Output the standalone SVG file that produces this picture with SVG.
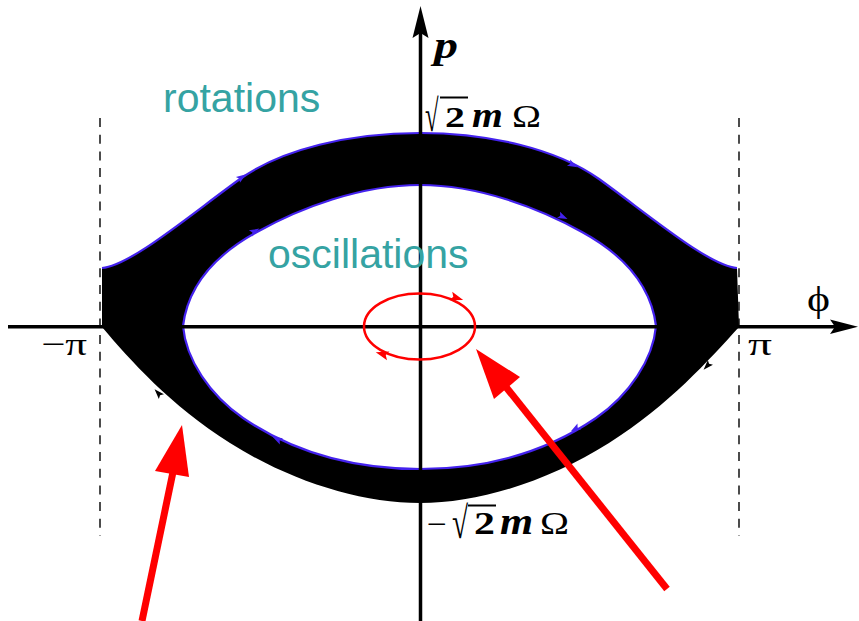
<svg xmlns="http://www.w3.org/2000/svg" xmlns:xlink="http://www.w3.org/1999/xlink" width="859" height="621" viewBox="0 0 859 621">
  <defs>
    <style>
      .axis { stroke: #000; stroke-width: 3.5; fill: none; }
      .dash { stroke: #000; stroke-width: 1.4; stroke-dasharray: 9 7.7; fill: none; }
      .blue { stroke: #4422ee; stroke-width: 2.2; fill: none; }
      .word { font-family: "Liberation Sans", Arial, sans-serif; font-size: 41px; fill: #35a3a3; }
      .math { font-family: "Liberation Serif", "DejaVu Serif", serif; fill: #000; }
      .red { stroke: #ff0000; fill: none; }
    </style>
    <path id="ah" d="M5,0 L-5,-3.5 L-3,0 L-5,3.5 Z"/>
  </defs>

  <rect width="859" height="621" fill="#ffffff"/>

  <g id="guides">
    <line class="dash" x1="100" y1="118" x2="100" y2="536"/>
    <line class="dash" x1="739" y1="118" x2="739" y2="536"/>
  </g>

  <g id="band">
    <path fill="#000" fill-rule="evenodd" d="M102,268 C130,266 190,215 240,179 C282,149 350,133 420,133 C489,133 557,149 599,179 C649,215 709,266 737,268 L739,327 C709,360 669,405 609,443 C549,481 479,503 420,503 C360,503 290,481 230,443 C170,405 130,360 102,327 Z M183,326 C188,285 215,255 257,232 C300,208 360,185 420,185 C479,185 539,208 582,232 C624,255 651,285 656,326 C653,360 629,395 596,418 C549,450 489,469 420,469 C350,469 290,450 243,418 C210,395 186,360 183,326 Z"/>
    <path class="blue" d="M102,268 C130,266 190,215 240,179 C282,149 350,133 420,133 C489,133 557,149 599,179 C649,215 709,266 737,268"/>
    <path class="blue" d="M183,326 C188,285 215,255 257,232 C300,208 360,185 420,185 C479,185 539,208 582,232 C624,255 651,285 656,326 C653,360 629,395 596,418 C549,450 489,469 420,469 C350,469 290,450 243,418 C210,395 186,360 183,326 Z"/>
    <g fill="#4422ee">
      <use xlink:href="#ah" transform="translate(242,177) rotate(-35)"/>
      <use xlink:href="#ah" transform="translate(573,165) rotate(27)"/>
      <use xlink:href="#ah" transform="translate(255,231) rotate(-29)"/>
      <use xlink:href="#ah" transform="translate(563,217) rotate(25)"/>
      <use xlink:href="#ah" transform="translate(277,439) rotate(-153)"/>
      <use xlink:href="#ah" transform="translate(575,429) rotate(149)"/>
    </g>
    <g fill="#000">
      <use xlink:href="#ah" transform="translate(158,393) rotate(-133)"/>
      <use xlink:href="#ah" transform="translate(707,366) rotate(133)"/>
    </g>
  </g>

  <g id="axes">
    <line class="axis" x1="8" y1="326.8" x2="836" y2="326.8"/>
    <path d="M858,326.8 L830,319.5 L835,326.8 L830,334 Z" fill="#000"/>
    <line class="axis" x1="420.5" y1="33" x2="420.5" y2="621"/>
    <path d="M420.5,6 L428.5,38 L420.5,33 L412.5,38 Z" fill="#000"/>
  </g>

  <g id="small-orbit">
    <ellipse class="red" cx="419.5" cy="326.5" rx="55.5" ry="33" stroke-width="2.5"/>
    <g fill="#ff0000">
      <use xlink:href="#ah" transform="translate(457,298) rotate(18) scale(1.3)"/>
      <use xlink:href="#ah" transform="translate(382,354) rotate(196) scale(1.3)"/>
    </g>
  </g>

  <g id="pointers">
    <line x1="142" y1="621" x2="173" y2="472" stroke="#ff0000" stroke-width="7"/>
    <path d="M182,425 L189,477 L155,471 Z" fill="#ff0000"/>
    <line x1="667" y1="589" x2="506" y2="387" stroke="#ff0000" stroke-width="7"/>
    <path d="M476,349 L520,377 L494,399 Z" fill="#ff0000"/>
  </g>

  <g id="labels">
    <text class="word" x="163" y="112">rotations</text>
    <text class="word" x="268" y="268">oscillations</text>

    <text class="math" x="434" y="58" font-size="38" font-weight="bold" font-style="italic" textLength="24" lengthAdjust="spacingAndGlyphs">p</text>

    <text class="math" transform="translate(425,131) scale(0.55,1)" font-size="45">√</text>
    <line x1="440" y1="97.5" x2="468" y2="97.5" stroke="#000" stroke-width="2"/>
    <text class="math" transform="translate(445,127) scale(1.33,1)" font-size="30" font-weight="bold">2</text>
    <text class="math" transform="translate(472,127) scale(1.1,1)" font-size="36" font-weight="bold" font-style="italic">m</text>
    <text class="math" transform="translate(512,127) scale(1.26,1)" font-size="31">Ω</text>

    <text class="math" transform="translate(427,534) scale(1.18,1)" font-size="30">−</text>
    <text class="math" transform="translate(452,538) scale(0.65,1)" font-size="45">√</text>
    <line x1="468" y1="505.5" x2="496" y2="505.5" stroke="#000" stroke-width="2"/>
    <text class="math" transform="translate(474,534) scale(1.35,1)" font-size="31" font-weight="bold">2</text>
    <text class="math" transform="translate(500,534) scale(1.15,1)" font-size="37" font-weight="bold" font-style="italic">m</text>
    <text class="math" transform="translate(540,534) scale(1.26,1)" font-size="31">Ω</text>

    <text class="math" x="41" y="355" font-size="32" textLength="46" lengthAdjust="spacingAndGlyphs">−π</text>
    <text class="math" x="748" y="355" font-size="32" textLength="24" lengthAdjust="spacingAndGlyphs">π</text>
    <text class="math" x="807" y="311" font-size="36" textLength="23" lengthAdjust="spacingAndGlyphs">ϕ</text>
  </g>
</svg>
